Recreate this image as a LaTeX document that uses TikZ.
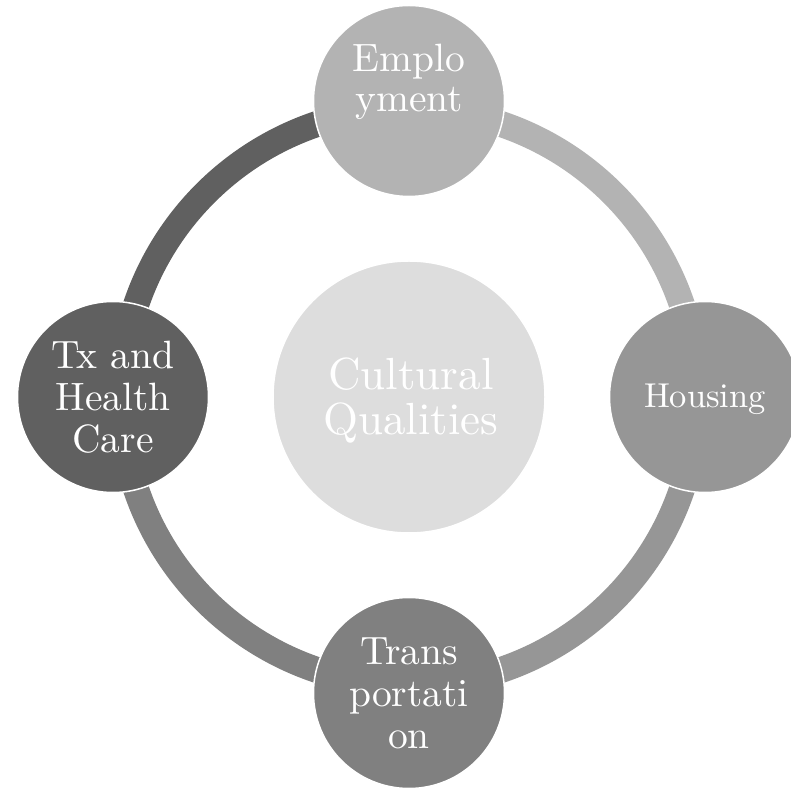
\documentclass[tikz,border=0pt]{standalone}
\usetikzlibrary{positioning}

\definecolor{empgray}{HTML}{B3B3B3}
\definecolor{housegray}{HTML}{969696}
\definecolor{transgray}{HTML}{808080}
\definecolor{caregray}{HTML}{606060}
\definecolor{coregray}{HTML}{DDDDDD}

\tikzset{
  bubble/.style={circle,draw=white,line width=1.5pt,minimum size=191pt,inner sep=0pt},
  bubbletext/.style={text=white,align=center,inner sep=0pt,scale=3.95,font=\fontsize{10}{10.6}\selectfont},
  ringarc/.style={line width=26pt}
}

\begin{document}
\begin{tikzpicture}[x=1pt,y=1pt]
  \useasboundingbox (-409,-394) rectangle (382,397);
  \clip (-409,-394) rectangle (382,397);
  \coordinate (hub) at (0,0);
  % ring segments, coloured like the bubble they leave
  \draw[ringarc,empgray] (hub) ++(90:288) arc[start angle=90,end angle=0,radius=288];
  \draw[ringarc,housegray] (hub) ++(0:288) arc[start angle=0,end angle=-90,radius=288];
  \draw[ringarc,transgray] (hub) ++(-90:288) arc[start angle=-90,end angle=-180,radius=288];
  \draw[ringarc,caregray] (hub) ++(180:288) arc[start angle=180,end angle=90,radius=288];
  % centre
  \node[bubble,fill=coregray,minimum size=272pt] (core) at (hub) {};
  \node[bubbletext,scale=4.5/3.95,font=\fontsize{10}{10}\selectfont] (coreText) at ([xshift=2pt,yshift=-4pt]core.center) {Cultural\\Qualities};
  % outer bubbles
  \node[bubble,fill=empgray] (emp) at (90:296) {};
  \node[bubbletext,font=\fontsize{10}{10.1}\selectfont] (empText) at ([yshift=19pt]emp.center) {Emplo\\yment};
  \node[bubble,fill=housegray] (house) at (0:296) {};
  \node[bubbletext,scale=3.45/3.95] (houseText) at ([yshift=-2pt]house.center) {Housing};
  \node[bubble,fill=transgray] (trans) at (-90:296) {};
  \node[bubbletext] (transText) at (trans) {Trans\\portati\\on};
  \node[bubble,fill=caregray] (care) at (180:296) {};
  \node[bubbletext] (careText) at (care) {Tx and\\Health\\Care};
\end{tikzpicture}
\end{document}
